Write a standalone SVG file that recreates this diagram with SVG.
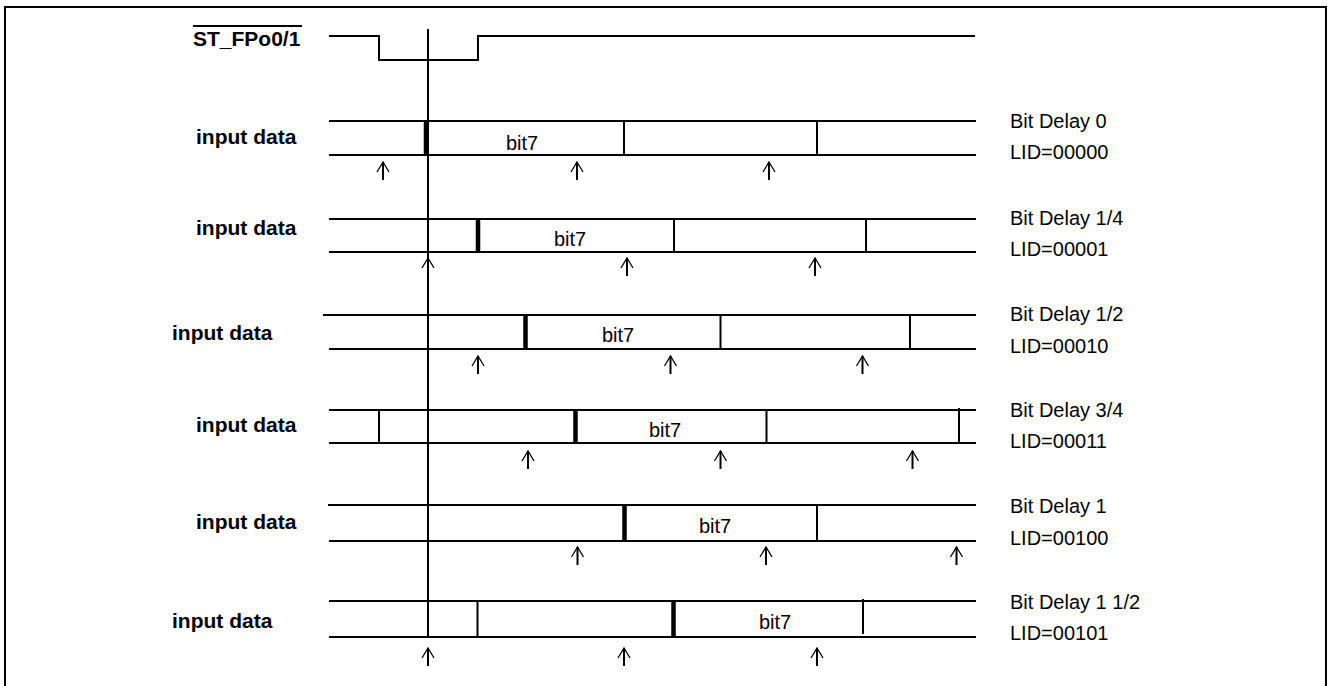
<svg xmlns="http://www.w3.org/2000/svg" width="1332" height="686" viewBox="0 0 1332 686">
<style>
.ln{stroke:#000;stroke-width:2;fill:none}
.thk{stroke:#000;stroke-width:4.5;fill:none}
.sh{stroke:#000;stroke-width:2;fill:none}
.hd{stroke:#000;stroke-width:1.3;fill:none}
.lbl{font-family:"Liberation Sans",Arial,sans-serif;font-size:21px;font-weight:bold;fill:#000}
.txt{font-family:"Liberation Sans",Arial,sans-serif;font-size:20px;fill:#000}
.bit{font-family:"Liberation Sans",Arial,sans-serif;font-size:20px;fill:#000;text-anchor:middle}
</style>
<defs>
<g id="arr"><line class="sh" x1="0" y1="0" x2="0" y2="18"/><polyline class="hd" points="-6,10 0,0 6,10"/></g>
</defs>
<rect x="5" y="7" width="1321" height="690" fill="#fff" stroke="#000" stroke-width="2"/>
<g id="connectors">
<line class="ln" x1="428" y1="29" x2="428" y2="637"/>
</g>
<g id="st_fpo">
<text class="lbl" x="193" y="46">ST_FPo0/1</text>
<line x1="193" y1="26" x2="302" y2="26" stroke="#000" stroke-width="2"/>
<polyline class="ln" points="329,36 379,36 379,60 478,60 478,36 975,36"/>
</g>
<g id="row1">
<text class="lbl" x="196" y="144">input data</text>
<line class="ln" x1="329" y1="121" x2="976" y2="121"/>
<line class="ln" x1="329" y1="155" x2="976" y2="155"/>
<line class="thk" x1="426" y1="120" x2="426" y2="156"/>
<line class="ln" x1="624" y1="121" x2="624" y2="155"/>
<line class="ln" x1="817" y1="121" x2="817" y2="155"/>
<text class="bit" x="522" y="150">bit7</text>
<use href="#arr" x="383" y="162"/><use href="#arr" x="577" y="162"/><use href="#arr" x="769" y="162"/>
<text class="txt" x="1010" y="128">Bit Delay 0</text>
<text class="txt" x="1010" y="159">LID=00000</text>
</g>
<g id="row2">
<text class="lbl" x="196" y="235">input data</text>
<line class="ln" x1="329" y1="219" x2="976" y2="219"/>
<line class="ln" x1="329" y1="252" x2="976" y2="252"/>
<line class="thk" x1="478" y1="218" x2="478" y2="253"/>
<line class="ln" x1="674" y1="219" x2="674" y2="252"/>
<line class="ln" x1="866" y1="219" x2="866" y2="252"/>
<text class="bit" x="570" y="246">bit7</text>
<use href="#arr" x="428" y="258"/><use href="#arr" x="627" y="258"/><use href="#arr" x="815" y="258"/>
<text class="txt" x="1010" y="225">Bit Delay 1/4</text>
<text class="txt" x="1010" y="256">LID=00001</text>
</g>
<g id="row3">
<text class="lbl" x="172" y="340">input data</text>
<line class="ln" x1="323" y1="315" x2="976" y2="315"/>
<line class="ln" x1="329" y1="349" x2="976" y2="349"/>
<line class="thk" x1="525.5" y1="314" x2="525.5" y2="350"/>
<line class="ln" x1="720.5" y1="315" x2="720.5" y2="349"/>
<line class="ln" x1="910" y1="315" x2="910" y2="349"/>
<text class="bit" x="618" y="342">bit7</text>
<use href="#arr" x="478" y="356"/><use href="#arr" x="670.5" y="356"/><use href="#arr" x="862.5" y="356"/>
<text class="txt" x="1010" y="321">Bit Delay 1/2</text>
<text class="txt" x="1010" y="353">LID=00010</text>
</g>
<g id="row4">
<text class="lbl" x="196" y="432">input data</text>
<line class="ln" x1="329" y1="410" x2="976" y2="410"/>
<line class="ln" x1="329" y1="443" x2="976" y2="443"/>
<line class="ln" x1="379" y1="410" x2="379" y2="443"/>
<line class="thk" x1="575.5" y1="409" x2="575.5" y2="444"/>
<line class="ln" x1="766.5" y1="410" x2="766.5" y2="443"/>
<line class="ln" x1="959" y1="408" x2="959" y2="443"/>
<text class="bit" x="665" y="437">bit7</text>
<use href="#arr" x="528" y="451"/><use href="#arr" x="720.5" y="451"/><use href="#arr" x="912.5" y="451"/>
<text class="txt" x="1010" y="417">Bit Delay 3/4</text>
<text class="txt" x="1010" y="448">LID=00011</text>
</g>
<g id="row5">
<text class="lbl" x="196" y="529">input data</text>
<line class="ln" x1="328" y1="505" x2="976" y2="505"/>
<line class="ln" x1="329" y1="541" x2="976" y2="541"/>
<line class="thk" x1="624.5" y1="504" x2="624.5" y2="542"/>
<line class="ln" x1="817" y1="505" x2="817" y2="541"/>
<text class="bit" x="715" y="533">bit7</text>
<use href="#arr" x="577.5" y="547"/><use href="#arr" x="766" y="547"/><use href="#arr" x="956.5" y="547"/>
<text class="txt" x="1010" y="513">Bit Delay 1</text>
<text class="txt" x="1010" y="545">LID=00100</text>
</g>
<g id="row6">
<text class="lbl" x="172" y="628">input data</text>
<line class="ln" x1="329" y1="601" x2="976" y2="601"/>
<line class="ln" x1="329" y1="637" x2="976" y2="637"/>
<line class="ln" x1="477.5" y1="601" x2="477.5" y2="637"/>
<line class="thk" x1="673.5" y1="600" x2="673.5" y2="638"/>
<line class="ln" x1="863" y1="599" x2="863" y2="634"/>
<text class="bit" x="775" y="629">bit7</text>
<use href="#arr" x="428" y="648"/><use href="#arr" x="624" y="648"/><use href="#arr" x="817" y="648"/>
<text class="txt" x="1010" y="609">Bit Delay 1 1/2</text>
<text class="txt" x="1010" y="640">LID=00101</text>
</g>
</svg>
